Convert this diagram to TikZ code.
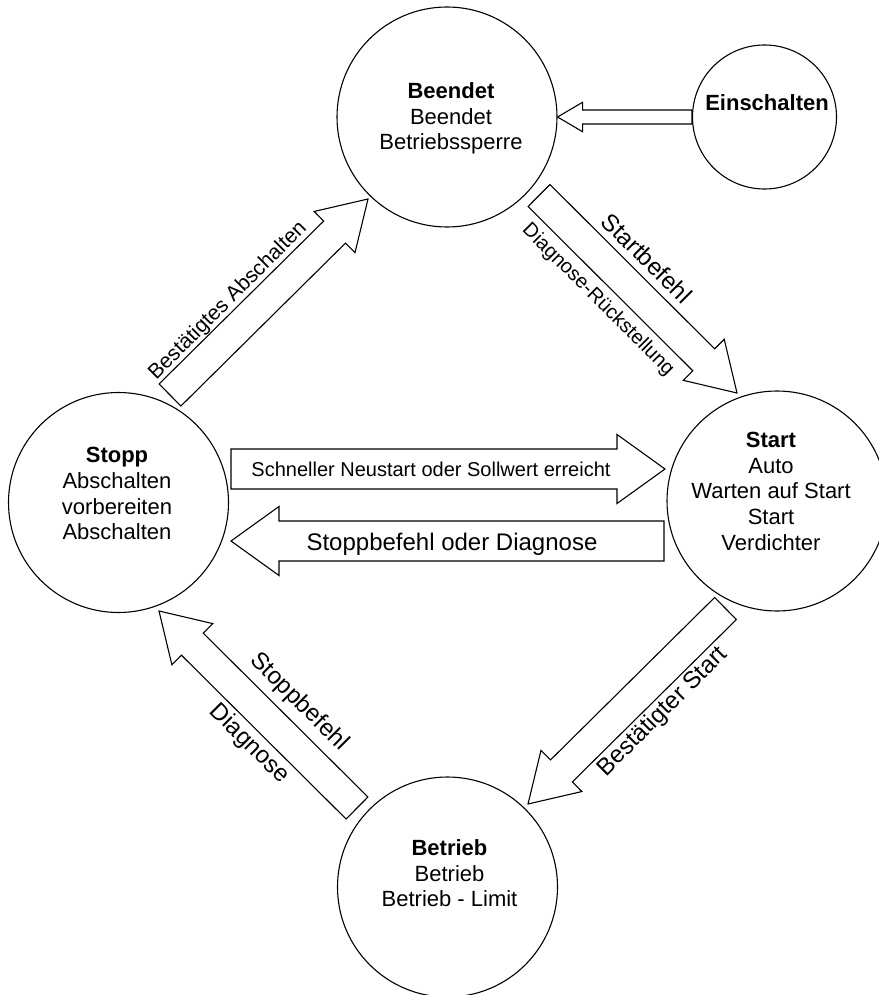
\documentclass[tikz,border=0pt]{standalone}
\usepackage{fontspec}
\setmainfont{Liberation Sans}
\usetikzlibrary{calc}
\tikzset{
  state/.style={circle, draw, line width=1.1pt, fill=white, inner sep=0pt},
  blockarr/.style={draw, line width=1.1pt, fill=white, line join=miter},
  statetext/.style={align=center, font=\fontsize{22}{25.7}\selectfont, inner sep=0pt},
  labsmall/.style={font=\fontsize{20}{24}\selectfont, inner sep=0pt},
  labmid/.style={font=\fontsize{21}{25}\selectfont, inner sep=0pt},
  labbig/.style={font=\fontsize{24}{28}\selectfont, inner sep=0pt},
}
% #1 name, #2 tail, #3 tip, #4 shaft half width, #5 head half width, #6 head length
\newcommand\blockarrow[6]{%
  \coordinate (#1-c) at ($(#3)!#6!(#2)$);
  \draw[blockarr] ($(#2)!#4!90:(#3)$) -- ($(#1-c)!#4!90:(#3)$) -- ($(#1-c)!#5!90:(#3)$)
    -- (#3) -- ($(#1-c)!#5!-90:(#3)$) -- ($(#1-c)!#4!-90:(#3)$) -- ($(#2)!#4!-90:(#3)$) -- cycle;
}
\begin{document}
\begin{tikzpicture}[x=1pt,y=-1pt]
\useasboundingbox (0,0) rectangle (878,995);
\fill[white] (0,0) rectangle (878,995);

% states
\node[state, minimum size=220pt] (beendet) at (447,117) {};
\node[state, minimum size=144pt] (einschalten) at (764.5,117) {};
\node[state, minimum size=220pt] (stopp) at (118.5,502.5) {};
\node[state, minimum size=220pt] (start) at (777,501) {};
\node[state, minimum size=220pt] (betrieb) at (447.5,887) {};

\node[statetext] (beendet-txt) at (451,118.5) {\textbf{Beendet}\\Beendet\\Betriebssperre};
\node[statetext] (einschalten-txt) at (767,103) {\textbf{Einschalten}};
\node[statetext] (stopp-txt) at (117,493.8) {\textbf{Stopp}\\Abschalten\\vorbereiten\\Abschalten};
\node[statetext] (start-txt) at (771,491.3) {\textbf{Start}\\Auto\\Warten auf Start\\Start\\Verdichter};
\node[statetext] (betrieb-txt) at (449.5,873.3) {\textbf{Betrieb}\\Betrieb\\Betrieb - Limit};

% arrow end points
\coordinate (abs-t) at (170,395);     \coordinate (abs-h) at (368,199);
\coordinate (sb-t) at (539,195.5);    \coordinate (sb-h) at (737,393);
\coordinate (bs-t) at (725.5,608.5);  \coordinate (bs-h) at (528,804);
\coordinate (sp-t) at (357,808);      \coordinate (sp-h) at (159,611);
\coordinate (sn-t) at (231,469);      \coordinate (sn-h) at (665,469);
\coordinate (sd-t) at (664,541);      \coordinate (sd-h) at (231,541);

% arrows
\blockarrow{ein}{einschalten.west}{beendet.east}{7pt}{14.7pt}{25pt}
\blockarrow{abs}{abs-t}{abs-h}{15.5pt}{29pt}{47pt}
\blockarrow{sb}{sb-t}{sb-h}{15.5pt}{29pt}{47pt}
\blockarrow{bs}{bs-t}{bs-h}{15.5pt}{29pt}{47pt}
\blockarrow{sp}{sp-t}{sp-h}{15.5pt}{29pt}{47pt}
\blockarrow{sn}{sn-t}{sn-h}{20pt}{34.5pt}{48pt}
\blockarrow{sd}{sd-t}{sd-h}{20pt}{34.5pt}{48pt}

% labels
\node[labsmall] (sn-lab) at (431,469) {Schneller Neustart oder Sollwert erreicht};
\node[labbig] (sd-lab) at (452,544) {Stoppbefehl oder Diagnose};
\node[labmid, rotate=45] (abs-lab) at (228,301) {Bestätigtes Abschalten};
\node[labbig, rotate=-45] (sb-lab) at (647,258) {Startbefehl};
\node[labsmall, rotate=-45] (sb-lab2) at (598,300) {Diagnose-Rückstellung};
\node[labbig, rotate=45] (bs-lab) at (663,712) {Bestätigter Start};
\node[labbig, rotate=-45] (sp-lab) at (299,702) {Stoppbefehl};
\node[labbig, rotate=-45] (sp-lab2) at (249,744) {Diagnose};
\end{tikzpicture}
\end{document}
